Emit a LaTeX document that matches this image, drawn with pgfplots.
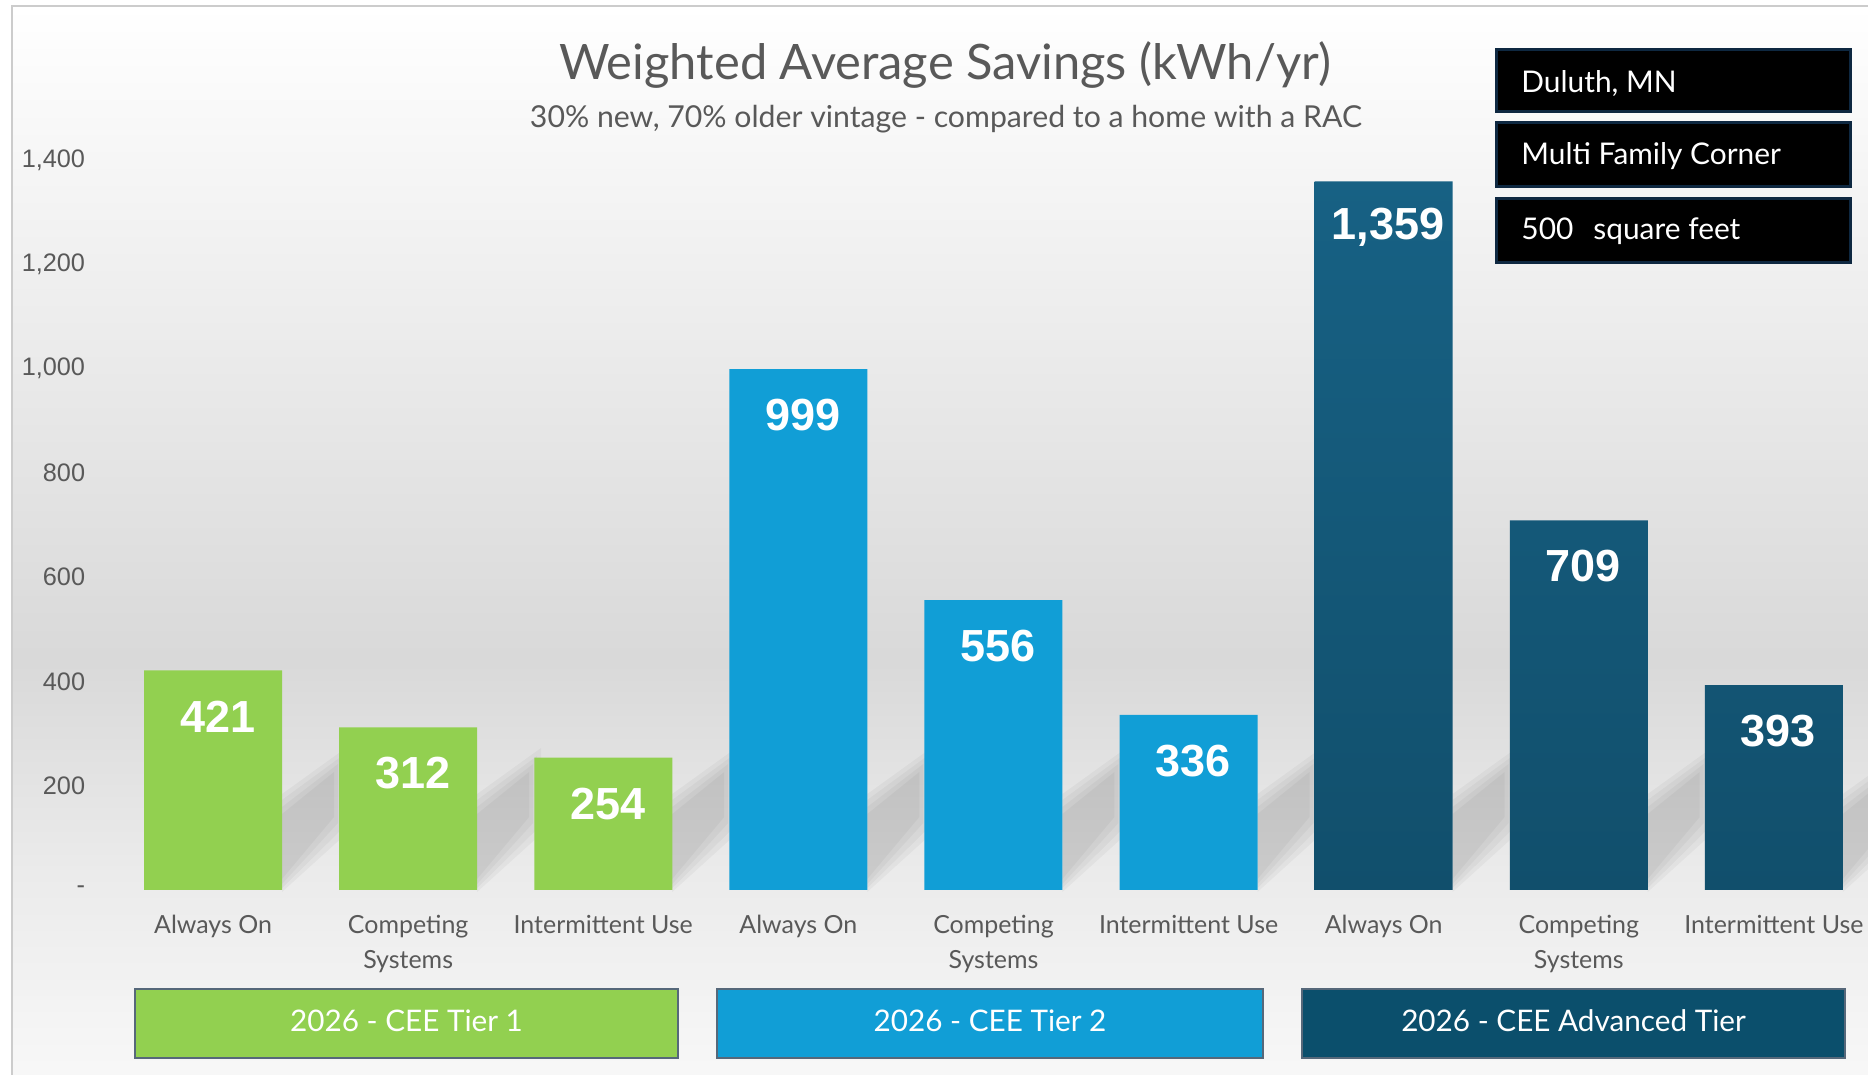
\documentclass[border=0pt]{standalone}
\usepackage{pgfplots}
\pgfplotsset{compat=1.18}
\usepackage{fontspec}
\setmainfont{Lato}
\newfontfamily\arialfont{Liberation Sans}
\definecolor{cgreen}{HTML}{92D050}
\definecolor{cblue}{HTML}{119ED6}
\definecolor{cdarktop}{HTML}{176184}
\definecolor{cdarkbot}{HTML}{114F6C}
\definecolor{cdarkbox}{HTML}{0B4F6C}
\definecolor{ctext}{HTML}{595959}
\definecolor{cnavy}{HTML}{0E2841}

\begin{document}
\begin{tikzpicture}
% background
\fill[top color=white, bottom color=black!15] (0.12,4.14) rectangle (18.68,10.68);
\fill[top color=black!15, bottom color=black!3, middle color=black!8] (0.12,0) rectangle (18.68,4.14);
\draw[black!20, line width=0.02cm] (0.12,-0.5) -- (0.12,10.68) -- (19,10.68);
% decorative bar shadows
\foreach \i in {0,...,8}{
  \pgfmathsetmacro\xr{2.13+1.951*\i+0.69}
  \fill[black, opacity=0.035] (\xr,1.82) -- (\xr+0.64,2.40) -- (\xr+0.64,3.26) -- (\xr,2.80) -- cycle;
  \fill[black, opacity=0.035] (\xr,1.86) -- (\xr+0.60,2.45) -- (\xr+0.60,3.18) -- (\xr,2.74) -- cycle;
  \fill[black, opacity=0.035] (\xr,1.90) -- (\xr+0.56,2.51) -- (\xr+0.56,3.10) -- (\xr,2.67) -- cycle;
  \fill[black, opacity=0.035] (\xr,1.95) -- (\xr+0.52,2.57) -- (\xr+0.52,3.02) -- (\xr,2.60) -- cycle;
}
\begin{axis}[
  at={(1.155cm,1.84cm)}, anchor=south west, scale only axis,
  width=17.56cm, height=7.30cm,
  xmin=-0.5, xmax=8.5, ymin=0, ymax=1400,
  axis line style={draw=none}, major tick length=0pt,
  ytick={0,200,...,1400},
  yticklabels={{-\hspace{0.11cm}},200,400,600,800,{1,000},{1,200},{1,400}},
  yticklabel style={font=\arialfont\fontsize{7.2}{8}\selectfont, text=ctext, xshift=-0.18cm},
  xtick={0,...,8},
  xticklabels={Always On,{Competing\\Systems},Intermittent Use,Always On,{Competing\\Systems},Intermittent Use,Always On,{Competing\\Systems},Intermittent Use},
  xticklabel style={font=\fontsize{7.1}{9.8}\selectfont, text=ctext, align=center, yshift=-0.13cm},
  ybar, bar width=1.38cm,
  nodes near coords,
  point meta=y,
  /pgf/number format/assume math mode=true,
  /pgf/number format/1000 sep={,},
  every node near coord/.append style={font=\arialfont\bfseries\fontsize{12.8}{14}\selectfont, text=white, anchor=center, yshift=-0.46cm, xshift=0.045cm},
  clip=false,
]
\addplot[fill=cgreen, draw=none, bar shift=0pt] coordinates {(0,421) (1,312) (2,254)};
\addplot[fill=cblue, draw=none, bar shift=0pt] coordinates {(3,999) (4,556) (5,336)};
\addplot[draw=none, top color=cdarktop, bottom color=cdarkbot, bar shift=0pt] coordinates {(6,1359) (7,709) (8,393)};
\end{axis}
% title
\node[font=\fontsize{13.9}{17}\selectfont, text=ctext] at (9.45,10.085) {Weighted Average Savings (kWh/yr)};
\node[font=\fontsize{8.6}{11}\selectfont, text=ctext] at (9.46,9.55) {30\% new, 70\% older vintage - compared to a home with a RAC};
% info boxes
\draw[fill=black, draw=cnavy, line width=0.03cm] (14.96,10.24) rectangle (18.50,9.62);
\node[anchor=west, text=white, font=\fontsize{8.5}{10}\selectfont] at (15.09,9.906) {Duluth, MN};
\draw[fill=black, draw=cnavy, line width=0.03cm] (14.96,9.51) rectangle (18.50,8.87);
\node[anchor=west, text=white, font=\fontsize{8.5}{10}\selectfont] at (15.09,9.18) {Multi Family Corner};
\draw[fill=black, draw=cnavy, line width=0.03cm] (14.96,8.75) rectangle (18.50,8.11);
\node[anchor=west, text=white, font=\fontsize{8.5}{10}\selectfont] at (15.09,8.43) {500\hspace{0.2cm}square feet};
% group boxes
\draw[fill=cgreen, draw=cnavy!70, line width=0.02cm] (1.35,0.85) rectangle (6.78,0.16);
\node[text=white, font=\fontsize{8.45}{10}\selectfont] at (4.065,0.53) {2026 - CEE Tier 1};
\draw[fill=cblue, draw=cnavy!70, line width=0.02cm] (7.17,0.85) rectangle (12.63,0.16);
\node[text=white, font=\fontsize{8.45}{10}\selectfont] at (9.90,0.53) {2026 - CEE Tier 2};
\draw[fill=cdarkbox, draw=cnavy!70, line width=0.02cm] (13.02,0.85) rectangle (18.45,0.16);
\node[text=white, font=\fontsize{8.45}{10}\selectfont] at (15.735,0.53) {2026 - CEE Advanced Tier};
\pgfresetboundingbox
\useasboundingbox (0,0) rectangle (18.68,10.74);
\end{tikzpicture}
\end{document}
